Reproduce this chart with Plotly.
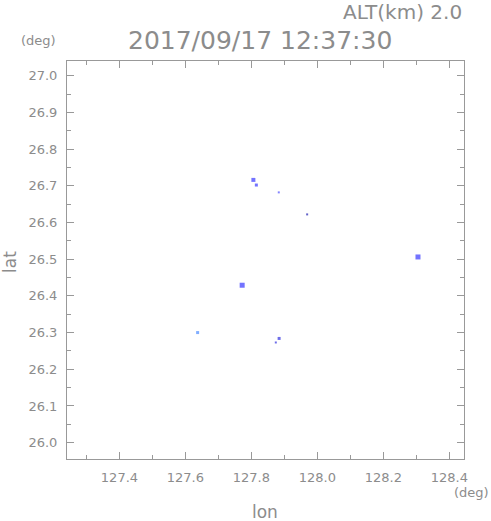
import plotly.graph_objects as go

# data
lon = [127.806, 127.815, 127.883, 127.969, 128.305, 127.772, 127.637, 127.884, 127.874]
lat = [26.716, 26.702, 26.682, 26.622, 26.506, 26.429, 26.300, 26.284, 26.273]
sizes = [4, 3, 2, 2, 5, 5, 3, 3, 2]
colors = ["#3838ff", "#3838ff", "#5050ff", "#2020b0", "#3838ff", "#3838ff", "#4c8cff", "#3030e0", "#3030e0"]

title_text = "2017/09/17 12:37:30"
alt_text = "ALT(km) 2.0"

W, H = 491, 521
L, R, T, B = 67, 464, 61, 459

def px(x):
    return (x - L) / (R - L)

def py(y):
    return (B - y) / (B - T)

fig = go.Figure()
fig.add_trace(go.Scatter(
    x=lon, y=lat, mode="markers",
    marker=dict(symbol="square", size=sizes, color=colors, line=dict(width=0)),
    showlegend=False, hoverinfo="skip"))

axis_common = dict(
    showgrid=False, zeroline=False, showline=True, linecolor="#999999", linewidth=1,
    ticks="inside", ticklen=7, tickcolor="#999999", mirror="allticks",
    tickfont=dict(family="DejaVu Sans", size=13, color="#8c8c8c"),
    ticklabelstandoff=6,
)

fig.update_layout(
    width=W, height=H,
    margin=dict(l=L, r=W - R, t=T, b=H - B),
    paper_bgcolor="white", plot_bgcolor="white",
    xaxis=dict(range=[127.241, 128.4445], tick0=127.4, dtick=0.2, tickformat=".1f",
               minor=dict(ticks="inside", ticklen=4, dtick=0.1, tickcolor="#999999"),
               **axis_common),
    yaxis=dict(range=[25.9555, 27.040], tick0=26.0, dtick=0.1, tickformat=".1f",
               minor=dict(ticks="inside", ticklen=4, dtick=0.05, tickcolor="#999999"),
               **axis_common),
)

ann_font = dict(family="DejaVu Sans", color="#8c8c8c")
anns = [
    dict(text=title_text, x=px(260), y=py(40), size=25, xanchor="center"),
    dict(text=alt_text, x=px(464), y=py(12), size=20, xanchor="right"),
    dict(text="(deg)", x=px(38), y=py(40), size=13, xanchor="center"),
    dict(text="(deg)", x=px(471), y=py(492), size=13, xanchor="center"),
    dict(text="lon", x=px(265), y=py(512), size=17, xanchor="center"),
]
for a in anns:
    fig.add_annotation(text=a["text"], x=a["x"], y=a["y"], xref="paper", yref="paper",
                       xanchor=a["xanchor"], yanchor="middle", showarrow=False,
                       font=dict(size=a["size"], **ann_font))
fig.add_annotation(text="lat", x=px(10), y=py(262), xref="paper", yref="paper",
                   xanchor="center", yanchor="middle", showarrow=False, textangle=-90,
                   font=dict(size=17, **ann_font))

fig.write_html("out.html", config={"displayModeBar": False},
               post_script="document.body.style.margin='0';document.body.style.overflow='hidden';")
